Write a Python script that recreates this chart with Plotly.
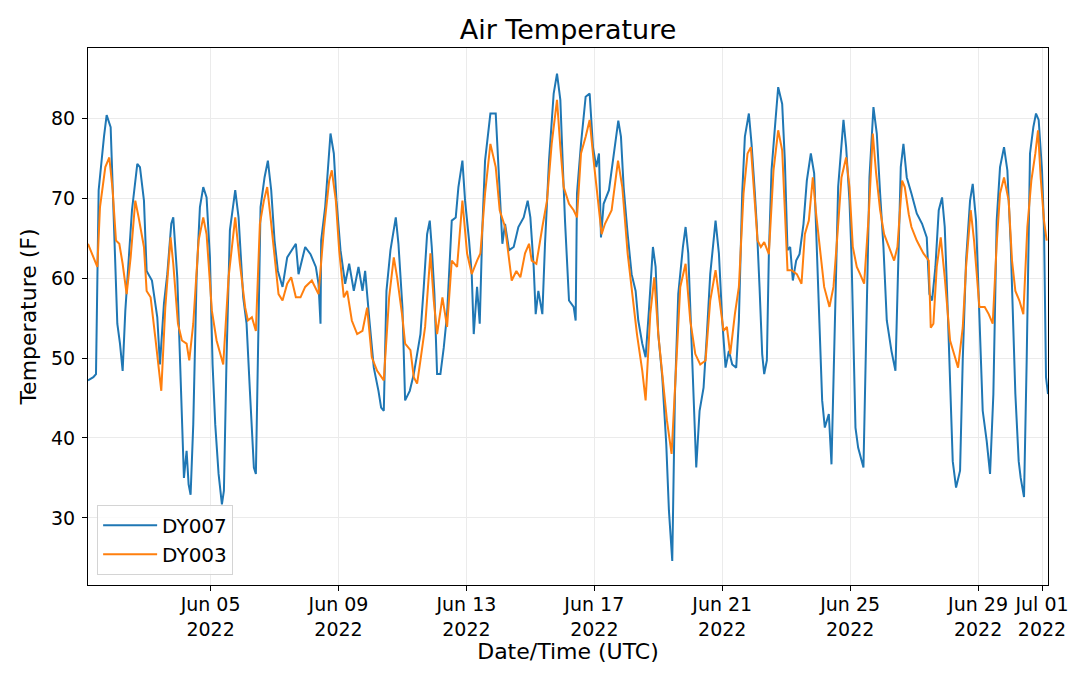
import pandas as pd
import plotly.graph_objects as go

# readings start 2022-06-01 04:00 UTC, offsets in hours
start = pd.Timestamp("2022-06-01 04:00")

dy007_hours = [
    0, 4, 6, 8, 12, 14, 17, 19, 22, 24, 26, 28, 30.5, 33, 37, 39, 42, 44, 48, 52, 54, 57, 59.5,
    62.5, 64, 67, 68.5, 70.5, 72, 74, 75.5, 77, 79, 81.5, 84, 86.5, 89, 91.5, 93.5, 95.5, 98,
    100.5, 102, 104, 106.5, 110.5, 113, 116.5, 119, 121.5, 123.5, 124.5, 126, 127.5, 129.5,
    132.5, 135, 137.5, 140, 142.5, 146, 149.5, 153, 156, 158, 163, 167, 171, 173, 174.5, 175,
    178, 182, 184.5, 186.5, 189.5, 193, 196, 199.5, 203, 206, 208, 211, 214.5, 218, 220, 222,
    224, 227, 231, 233, 236, 238, 241.5, 244.5, 247, 249.5, 252, 254.5, 256.5, 258, 260, 262,
    264.5, 267, 269.5, 273, 276, 278, 281, 283, 286, 288, 289.5, 292, 294, 296, 298, 302, 306,
    307.5, 309.5, 311, 313, 316, 319.5, 323, 327, 330, 332, 334.5, 336, 338, 341, 343, 346,
    349.5, 352, 354.5, 356.5, 358, 361, 364.5, 366, 367, 370, 373.5, 376.5, 379, 381.5, 383.5,
    385, 387, 391, 395, 398, 400, 402, 405, 408, 411, 413, 416, 418.5, 421, 424, 426, 428, 431,
    434, 436, 438.5, 440.5, 443, 446.5, 448.5, 450.5, 453.5, 456.5, 459, 462, 464.5, 467, 471,
    473.5, 476, 478.5, 481, 483.5, 486.5, 488.5, 491, 493, 496, 498, 500.5, 502, 504, 506,
    507.5, 509.5, 511, 513, 516, 518, 521, 523, 525, 527, 529, 531.5, 534, 537, 539.5, 542.5,
    545, 547.5, 549.5, 551, 553, 556, 558, 561, 563, 567, 569, 571.5, 573, 576, 578, 582, 584,
    586.5, 589.5, 592, 594.5, 597, 599.5, 603, 606, 607.5, 610, 612, 614.5, 618, 622, 626,
    629.5, 631.5, 633.5, 636, 638.5, 641, 643, 645, 647, 649, 651.5, 654.5, 656.5, 659, 662,
    664, 666.5, 669, 671.5, 674.5, 677, 679.5, 682, 684.5, 687.5, 690, 692.5, 696, 698.5, 700,
    702.5, 704.5, 707, 709.5, 711.5, 713.5, 716, 717.5, 719, 720.5,
]
dy007_temp = [
    47.2, 47.6, 48.0, 71.0, 77.7, 80.4, 78.9, 68.9, 54.3, 51.8, 48.4, 55.9, 62.6, 68.5, 74.3,
    73.9, 69.7, 60.9, 59.7, 55.1, 49.2, 56.8, 60.5, 66.8, 67.6, 60.1, 52.6, 41.7, 35.0, 38.4,
    34.2, 32.9, 41.7, 60.1, 68.9, 71.4, 70.1, 62.6, 49.2, 41.7, 35.5, 31.7, 33.4, 50.1, 66.0,
    71.0, 67.6, 57.6, 54.3, 45.9, 39.6, 36.3, 35.5, 50.1, 68.9, 72.6, 74.7, 71.0, 64.7, 60.9,
    58.9, 62.6, 63.5, 64.3, 60.5, 63.9, 63.0, 61.4, 59.3, 54.3, 64.7, 68.9, 78.1, 75.6, 69.7,
    63.5, 59.3, 61.8, 58.4, 61.4, 58.4, 60.9, 55.1, 48.8, 45.9, 43.8, 43.4, 58.4, 63.5, 67.6,
    64.3, 56.3, 44.7, 45.9, 48.0, 50.5, 53.0, 58.9, 65.5, 67.2, 63.9, 58.0, 48.0, 48.0, 51.3,
    55.5, 67.2, 67.6, 71.4, 74.7, 69.7, 64.7, 60.5, 53.0, 58.9, 54.3, 66.4, 74.7, 80.6, 80.6,
    75.6, 69.7, 64.3, 66.8, 63.5, 63.9, 66.4, 67.6, 69.7, 67.6, 61.4, 55.5, 58.4, 55.5, 64.3,
    74.7, 83.1, 85.6, 82.3, 73.5, 67.2, 57.2, 56.4, 54.7, 70.6, 76.8, 82.7, 83.1, 76.4, 73.9,
    75.6, 65.1, 69.3, 71.0, 76.0, 79.7, 77.7, 71.4, 65.5, 60.5, 58.4, 54.7, 51.8, 50.1, 56.0,
    63.9, 61.4, 53.0, 47.6, 39.2, 30.9, 24.6, 45.5, 58.0, 63.9, 66.4, 63.1, 49.7, 36.3, 43.4,
    46.3, 53.0, 60.5, 67.2, 63.1, 54.7, 48.8, 50.9, 49.2, 48.8, 54.7, 70.6, 77.7, 80.6, 76.8,
    70.6, 66.4, 58.9, 50.5, 48.0, 49.7, 63.0, 73.5, 79.8, 83.9, 81.8, 74.7, 63.5, 63.9, 59.7,
    62.2, 63.0, 66.8, 72.2, 75.6, 73.1, 62.2, 51.8, 44.7, 41.3, 43.0, 36.7, 58.0, 71.4, 79.8,
    76.4, 69.7, 63.0, 41.3, 38.8, 36.3, 53.8, 72.6, 81.4, 78.1, 70.6, 63.9, 54.7, 50.9, 48.4,
    58.0, 73.9, 76.8, 72.6, 70.6, 68.1, 66.8, 65.1, 58.0, 57.2, 61.4, 68.5, 70.1, 66.4, 57.2,
    45.5, 37.1, 33.8, 35.9, 49.7, 62.2, 69.7, 71.8, 67.2, 56.0, 43.4, 39.6, 35.5, 45.5, 67.2,
    73.9, 76.4, 73.5, 64.3, 45.5, 37.1, 35.0, 32.6, 49.7, 75.6, 78.9, 80.6, 79.8, 73.5, 66.4,
    47.6, 45.5,
]

dy003_hours = [
    0, 3, 7, 9, 13, 16, 18.5, 21, 23.5, 26, 29, 32, 35.5, 38, 42, 44, 47, 50.5, 53, 55, 58, 62,
    64, 67.5, 70.5, 74, 76, 79, 83, 86.5, 89, 93, 96.5, 101.5, 105.5, 110.5, 114, 118, 120, 123,
    126, 129, 132, 134.5, 137, 140, 143, 146, 149.5, 152.5, 156, 159.5, 163, 168, 173, 177, 181,
    183, 186, 188.5, 192, 194.5, 198, 202, 206, 209.5, 213, 217, 222, 226, 229.5, 232, 236, 238,
    242, 244.5, 247, 249.5, 253, 257, 259.5, 262, 266, 269.5, 273, 277, 281, 284.5, 288, 292,
    294.5, 298, 302, 306, 309, 313, 316, 318, 321.5, 324.5, 328, 331, 333, 336.5, 341, 344.5,
    348, 352, 354.5, 357, 361, 364.5, 367, 370, 373.5, 376.5, 379.5, 382, 385.5, 388, 393,
    397.8, 401, 405, 408, 412, 416, 418.5, 422, 425, 428, 431, 434.5, 438, 441, 444.5, 448.5,
    452, 455.8, 459.5, 463.5, 467, 471, 473.5, 477, 479.5, 482, 485.5, 488.5, 492, 495, 497.5,
    500, 502.5, 505, 507.5, 511, 514.5, 518, 521, 523, 525, 528, 532, 535.5, 538, 541, 544,
    546.5, 549.5, 552.5, 556.5, 559.5, 562.5, 565.5, 569, 571.5, 574, 577, 579.5, 582.5, 586,
    589, 591.5, 594.5, 597.5, 601, 605, 607.5, 611, 613, 616, 618, 622, 627, 631, 632.5, 634.5,
    637, 640, 643, 647, 650, 653, 656.5, 659, 662.5, 665, 669, 673, 676, 679, 682, 684.5, 687.5,
    691, 693.5, 696, 699, 702, 705, 708, 711, 713, 715, 717.5, 719.5,
]
dy003_temp = [
    64.3, 63.0, 61.4, 68.9, 73.9, 75.1, 71.0, 64.7, 64.3, 61.8, 58.0, 62.6, 69.7, 67.6, 63.9,
    58.4, 57.6, 52.6, 49.2, 45.9, 56.3, 65.1, 61.8, 54.3, 52.2, 51.8, 49.7, 54.3, 64.7, 67.6,
    65.5, 55.9, 52.2, 49.2, 60.1, 67.6, 61.8, 56.3, 54.7, 55.1, 53.4, 66.8, 69.7, 71.4, 67.6,
    62.6, 58.0, 57.2, 59.3, 60.1, 57.6, 57.6, 58.9, 59.7, 58.0, 66.0, 72.2, 73.5, 69.7, 63.5,
    57.6, 58.4, 54.7, 53.0, 53.4, 56.3, 50.1, 48.4, 47.2, 57.6, 62.6, 60.1, 55.1, 51.8, 51.0,
    47.6, 46.8, 49.7, 53.9, 63.1, 57.2, 53.0, 57.6, 53.9, 62.2, 61.4, 69.7, 63.1, 60.5, 62.2,
    63.1, 70.6, 76.8, 73.9, 68.5, 66.4, 62.2, 59.7, 60.9, 60.1, 63.1, 64.3, 62.2, 61.8, 66.4,
    69.7, 76.8, 82.3, 76.4, 71.4, 69.3, 68.5, 67.6, 75.6, 77.7, 79.8, 74.7, 70.6, 65.5, 66.8,
    68.5, 74.7, 71.4, 63.1, 58.9, 53.0, 48.4, 44.7, 55.5, 60.1, 53.0, 47.6, 42.2, 38.0, 47.6,
    58.9, 61.8, 54.7, 50.5, 49.2, 49.7, 57.2, 61.0, 58.0, 53.4, 53.9, 50.5, 55.5, 58.9, 70.6,
    75.6, 76.4, 70.6, 64.7, 63.9, 64.5, 63.0, 73.5, 78.5, 76.0, 68.5, 61.0, 61.0, 60.5, 59.3,
    65.5, 67.2, 72.6, 68.0, 63.0, 58.9, 56.4, 58.9, 65.5, 72.6, 75.1, 71.4, 63.9, 61.4, 60.5,
    59.3, 68.0, 78.1, 73.1, 68.5, 65.5, 63.9, 62.2, 63.9, 72.2, 71.4, 68.0, 66.4, 64.7, 63.1,
    62.2, 53.8, 54.3, 61.4, 65.1, 60.1, 52.2, 50.5, 48.8, 53.8, 61.4, 68.5, 64.7, 56.4, 56.4,
    55.5, 54.3, 64.3, 70.6, 72.6, 69.7, 62.2, 58.4, 57.2, 55.5, 66.4, 72.2, 75.6, 78.5, 72.6,
    67.2, 64.7,
]

tick_dates = ["2022-06-05", "2022-06-09", "2022-06-13", "2022-06-17",
              "2022-06-21", "2022-06-25", "2022-06-29", "2022-07-01"]
tick_text = ["Jun 05<br>2022", "Jun 09<br>2022", "Jun 13<br>2022", "Jun 17<br>2022",
             "Jun 21<br>2022", "Jun 25<br>2022", "Jun 29<br>2022", "Jul 01<br>2022"]

x007 = start + pd.to_timedelta(dy007_hours, unit="h")
x003 = start + pd.to_timedelta(dy003_hours, unit="h")

font = "DejaVu Sans, Arial, sans-serif"

fig = go.Figure()
fig.add_trace(go.Scatter(x=x007, y=dy007_temp, mode="lines", name="DY007",
                         line=dict(color="#1f77b4", width=2)))
fig.add_trace(go.Scatter(x=x003, y=dy003_temp, mode="lines", name="DY003",
                         line=dict(color="#ff7f0e", width=2)))

# the page body adds 8px on the left/top, margins are shifted for that
fig.update_layout(
    width=1080, height=681,
    margin=dict(l=80, r=40, t=40, b=104, autoexpand=False),
    paper_bgcolor="white", plot_bgcolor="white",
    font=dict(family=font, size=19, color="black"),
    title=dict(text="Air Temperature", x=0.5, xref="paper", xanchor="center",
               y=1 - 22 / 681, yanchor="middle", font=dict(size=27)),
    legend=dict(x=0.0095, y=0.019, xanchor="left", yanchor="bottom",
                bgcolor="rgba(255,255,255,0.8)", bordercolor="#d4d4d4", borderwidth=1,
                font=dict(size=20), itemwidth=54, tracegroupgap=0),
    showlegend=True,
)
fig.update_xaxes(
    range=[x007[0], x007[-1]],
    tickvals=pd.to_datetime(tick_dates), ticktext=tick_text,
    showgrid=True, gridcolor="#ebebeb", gridwidth=1,
    showline=True, linecolor="black", linewidth=1, mirror=True,
    ticks="outside", ticklen=5, tickcolor="black", ticklabelstandoff=-3,
    tickfont=dict(size=19), automargin=False,
    title=dict(text="Date/Time (UTC)", font=dict(size=22), standoff=4),
)
fig.update_yaxes(
    range=[21.6, 88.8],
    tickvals=[30, 40, 50, 60, 70, 80],
    showgrid=True, gridcolor="#ebebeb", gridwidth=1, zeroline=False,
    showline=True, linecolor="black", linewidth=1, mirror=True,
    ticks="outside", ticklen=5, tickcolor="black", ticklabelstandoff=3,
    tickfont=dict(size=19), automargin=False,
    title=dict(text="Temperature (F)", font=dict(size=22), standoff=8),
)

fig.write_html("out.html")
